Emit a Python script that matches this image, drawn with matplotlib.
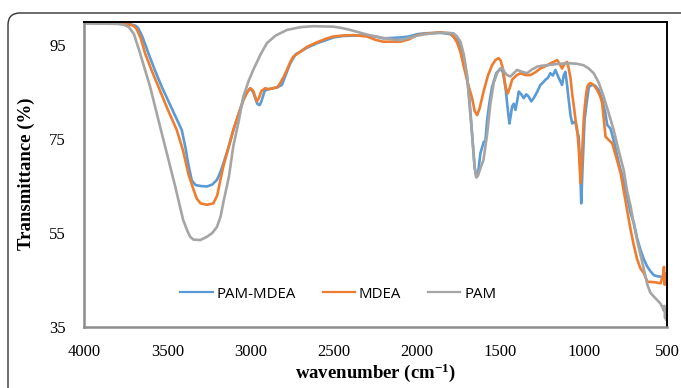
import matplotlib.pyplot as plt
from matplotlib.patches import FancyBboxPatch

plt.rcParams['mathtext.fontset'] = 'custom'
plt.rcParams['mathtext.rm'] = 'Liberation Serif'
plt.rcParams['mathtext.bf'] = 'Liberation Serif:bold'

# FTIR spectra (wavenumber cm-1, transmittance %)
pam_mdea = [(4000, 99.7), (3800, 99.6), (3720, 99.4), (3690, 99.1), (3675, 98.6), (3650, 96.8),
            (3613, 93.2), (3573, 89.5), (3533, 86.1), (3473, 81.5), (3413, 76.9), (3390, 73),
            (3373, 69.5), (3353, 66.2), (3330, 65.2), (3300, 65), (3262, 64.9), (3230, 65.3),
            (3202, 66.3), (3183, 67.8), (3163, 69.8), (3130, 73.5), (3103, 76.9), (3070, 80.5),
            (3043, 83.3), (3020, 85), (3002, 85.8), (2985, 85), (2970, 83.5), (2960, 82.5),
            (2946, 82.2), (2935, 83), (2915, 85.3), (2890, 85.6), (2864, 85.8), (2840, 86),
            (2812, 86.5), (2790, 88.5), (2762, 91.1), (2730, 93), (2700, 93.6), (2662, 94.4),
            (2600, 95.4), (2542, 96.1), (2503, 96.6), (2450, 96.9), (2383, 97), (2301, 97),
            (2250, 96.8), (2203, 96.4), (2150, 96.5), (2101, 96.6), (2050, 96.8), (2001, 97.3),
            (1950, 97.5), (1860, 97.6), (1800, 97.3), (1762, 96.1), (1740, 94.5), (1722, 92.2),
            (1700, 88), (1685, 83), (1670, 76), (1655, 69), (1645, 67), (1635, 67.5),
            (1620, 72), (1600, 74.4), (1590, 74.6), (1580, 79), (1565, 83), (1550, 86.1),
            (1525, 89), (1500, 90), (1485, 89.2), (1470, 86.1), (1458, 82), (1446, 78.3),
            (1438, 80), (1430, 81.9), (1420, 82.5), (1410, 81.2), (1400, 83), (1390, 85.1),
            (1375, 84.5), (1360, 83.7), (1345, 84.5), (1330, 84), (1315, 83), (1300, 83.7),
            (1280, 85), (1260, 86.5), (1245, 87), (1230, 87.6), (1215, 88), (1200, 89),
            (1185, 88.5), (1170, 89.7), (1150, 88), (1130, 86.5), (1120, 88.5), (1110, 89.3),
            (1100, 86.5), (1090, 83.3), (1079, 80), (1069, 78.3), (1059, 78.6), (1049, 78.5),
            (1039, 76.5), (1030, 75.5), (1022, 70), (1015, 61.3), (1008, 68), (1000, 75),
            (995, 79), (985, 82), (969, 86.1), (950, 86.5), (930, 86.3), (910, 85.4),
            (890, 83.5), (870, 80.5), (859, 78), (849, 77.6), (839, 77.2), (815, 74),
            (789, 69.8), (760, 66), (740, 63), (718, 59.2), (698, 57), (680, 54),
            (660, 51.5), (640, 49.5), (618, 47.8), (598, 46.8), (578, 46), (558, 45.8),
            (538, 45.7), (525, 45.5), (515, 46.5), (510, 44.5), (506, 46), (503, 44.8)]

mdea = [(4000, 99.7), (3800, 99.6), (3720, 99.3), (3700, 99), (3684, 98.4), (3660, 96.5),
        (3633, 93.2), (3593, 89.5), (3553, 86.1), (3500, 81.5), (3443, 76.9), (3405, 72.5),
        (3373, 67.5), (3345, 64.5), (3323, 62.3), (3300, 61.3), (3262, 61), (3224, 61.3),
        (3200, 63), (3180, 66.5), (3164, 69.1), (3130, 73.5), (3104, 76.9), (3070, 80.5),
        (3044, 83.3), (3020, 85), (3002, 85.8), (2985, 85.3), (2970, 83.8), (2962, 83),
        (2950, 83.7), (2935, 85.2), (2912, 85.8), (2890, 85.6), (2864, 85.8), (2840, 86),
        (2822, 86.9), (2800, 88.3), (2782, 89.7), (2760, 91.5), (2744, 92.5), (2700, 93.6),
        (2662, 94.6), (2600, 95.6), (2542, 96.4), (2503, 96.8), (2450, 97), (2383, 97.1),
        (2301, 96.8), (2250, 96.1), (2203, 95.7), (2150, 95.7), (2101, 95.7), (2050, 96.2),
        (2001, 97.1), (1950, 97.4), (1860, 97.7), (1800, 97.5), (1782, 96.8), (1760, 95.5),
        (1740, 93.5), (1722, 90.7), (1700, 87.5), (1685, 85.5), (1670, 83.7), (1655, 81),
        (1640, 80.1), (1625, 81.5), (1602, 85), (1575, 88.5), (1550, 90.7), (1530, 91.8),
        (1512, 92.2), (1500, 91.8), (1485, 90), (1470, 86.1), (1456, 84.7), (1443, 86),
        (1430, 87.6), (1405, 88.5), (1380, 89), (1350, 88.6), (1320, 88.6), (1290, 89.2),
        (1260, 90), (1230, 90.5), (1200, 91.1), (1180, 91.4), (1160, 91.8), (1145, 91),
        (1130, 90), (1115, 91), (1100, 91.4), (1090, 90), (1079, 87.9), (1069, 84.5),
        (1059, 81.9), (1049, 79), (1039, 76.9), (1030, 73), (1024, 69), (1019, 65.6),
        (1014, 68), (1008, 73), (999, 79.7), (989, 83.5), (979, 86.1), (969, 86.7),
        (959, 86.9), (940, 86.5), (919, 85.4), (900, 84), (889, 82.6), (879, 79),
        (869, 75.5), (850, 74.8), (829, 74.1), (800, 70.5), (779, 67.8), (760, 64),
        (739, 59.9), (718, 55.6), (700, 52.5), (680, 49.5), (660, 47.5), (638, 46.4),
        (618, 44.6), (598, 44.6), (570, 44.5), (538, 44.3), (525, 46), (518, 47.8),
        (514, 44), (510, 46), (506, 45)]

pam = [(4000, 99.6), (3800, 99.5), (3760, 99.3), (3730, 98.8), (3700, 97.3), (3663, 93.2),
       (3603, 86.1), (3553, 79), (3503, 72), (3453, 65), (3405, 57.8), (3380, 55.5),
       (3363, 54.2), (3343, 53.6), (3302, 53.5), (3262, 54.2), (3230, 55), (3202, 56.3),
       (3180, 58.5), (3164, 61.4), (3130, 67), (3104, 73.4), (3070, 79), (3044, 84),
       (3010, 87.5), (2984, 89.7), (2940, 93), (2902, 95.4), (2850, 97), (2782, 98.2),
       (2700, 98.8), (2623, 99), (2503, 98.9), (2450, 98.6), (2401, 98.2), (2300, 97.2),
       (2203, 96.5), (2150, 96.2), (2101, 96), (2050, 96.5), (2000, 97), (1950, 97.3),
       (1903, 97.5), (1850, 97.6), (1782, 97.5), (1760, 96.8), (1740, 95.7), (1720, 93),
       (1700, 88.6), (1685, 82), (1670, 75.9), (1655, 69), (1645, 66.8), (1635, 67.2),
       (1620, 68.8), (1602, 70.5), (1580, 76), (1560, 82.6), (1540, 87), (1520, 89),
       (1505, 89.8), (1490, 90.1), (1475, 89.2), (1460, 88.6), (1440, 88.3), (1420, 89),
       (1400, 89.7), (1370, 89.3), (1340, 89), (1310, 89.8), (1279, 90.4), (1250, 90.6),
       (1219, 90.7), (1150, 91), (1079, 91.1), (1040, 91), (1001, 90.7), (970, 90),
       (940, 89), (910, 87), (880, 84), (850, 80.5), (820, 76.9), (790, 72.5),
       (760, 68.4), (740, 64), (718, 60.6), (700, 57), (680, 53.5), (660, 50.5),
       (640, 47.5), (618, 44), (600, 42.3), (580, 41.5), (558, 40.7), (540, 40),
       (528, 39.3), (520, 38.5), (515, 39.5), (512, 37), (508, 38.5), (505, 36.5),
       (502, 38)]

series_names = ['PAM-MDEA', 'MDEA', 'PAM']
series_colors = ['#5B9BD5', '#ED7D31', '#A5A5A5']
x_ticks = [4000, 3500, 3000, 2500, 2000, 1500, 1000, 500]
y_ticks = [35, 55, 75, 95]

fig = plt.figure(figsize=(6.81, 3.88), dpi=100)

# rounded outer frame, cut off at right and bottom like the source
frame = FancyBboxPatch((0.08, -0.5), 7.5, 4.25, boxstyle='round,pad=0,rounding_size=0.12',
                       transform=fig.dpi_scale_trans, fill=False, ec='#333333', lw=1.0)
fig.add_artist(frame)

ax = fig.add_axes([84 / 681, 1 - 327 / 388, (667 - 84) / 681, (327 - 21.5) / 388])

for data, name, col in zip([pam_mdea, mdea, pam], series_names, series_colors):
    wn = [p[0] for p in data]
    tr = [p[1] for p in data]
    ax.plot(wn, tr, color=col, lw=1.9, label=name, solid_joinstyle='round')

ax.set_xlim(4000, 500)
ax.set_ylim(35, 100)
ax.set_xticks(x_ticks)
ax.set_yticks(y_ticks)
ax.tick_params(length=0, labelsize=12)
ax.tick_params(axis='x', pad=12)
ax.tick_params(axis='y', pad=13)
for lab in ax.get_xticklabels() + ax.get_yticklabels():
    lab.set_family('Liberation Serif')

for s in ['left', 'bottom']:
    ax.spines[s].set_color('#8c8c8c')
    ax.spines[s].set_linewidth(1.8)
for s in ['top', 'right']:
    ax.spines[s].set_color('black')
    ax.spines[s].set_linewidth(1.4)

ax.set_xlabel(r'wavenumber (cm$\mathbf{^{-1}}$)', family='Liberation Serif', fontweight='bold',
              fontsize=13.5, labelpad=1)
ax.set_ylabel('Transmittance (%)', family='Liberation Serif', fontweight='bold',
              fontsize=13.5, labelpad=10)

leg = ax.legend(loc='center', bbox_to_anchor=(0.436, 0.108), ncol=3, frameon=False,
                prop={'family': 'Open Sans', 'size': 10.8}, handlelength=2.15,
                handletextpad=0.25, columnspacing=1.8)
for h in leg.get_lines():
    h.set_linewidth(1.6)

fig.savefig('out.png', dpi=100)
